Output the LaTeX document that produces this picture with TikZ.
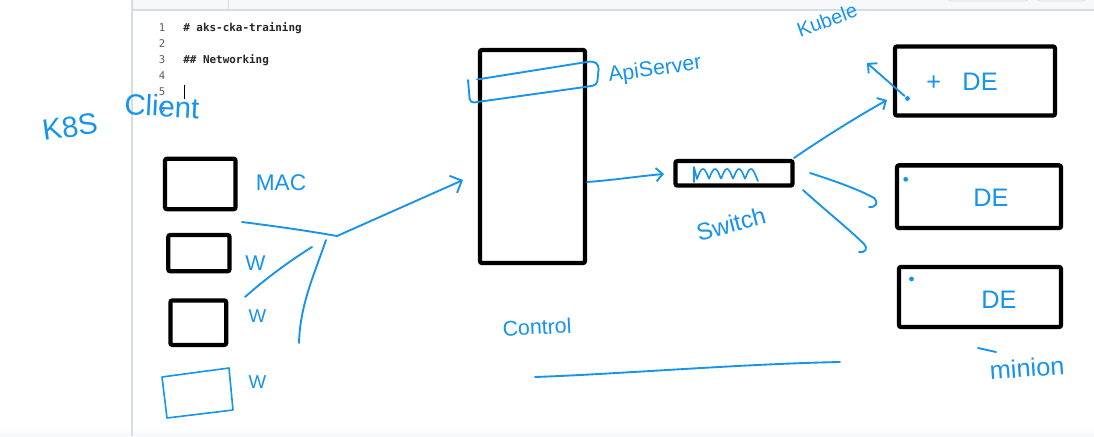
\documentclass[tikz,border=0pt]{standalone}
\usepackage{fontspec}
\usetikzlibrary{arrows.meta}
\newfontfamily\handfont{Liberation Sans}
\newfontfamily\codefont{DejaVu Sans Mono}
\definecolor{inkblue}{RGB}{22,147,235}
\definecolor{uiline}{RGB}{214,220,226}
\definecolor{uigray}{RGB}{246,248,250}
\definecolor{lnum}{RGB}{87,96,106}

\begin{document}
\begin{tikzpicture}[x=0.75pt,y=-0.75pt,
	box/.style={draw,line width=3.2pt,rounded corners=1.5pt,inner sep=0pt},
	ink/.style={draw=inkblue,line width=1.4pt,line cap=round,line join=round},
	hw/.style={text=inkblue,inner sep=0pt,font=\handfont\fontsize{#1}{#1}\selectfont},
	dot/.style={circle,fill=inkblue,inner sep=0pt,minimum size=3.6pt},
	barb/.style={-{Straight Barb[length=5pt,width=10pt]}},
	bigbarb/.style={-{Straight Barb[length=7pt,width=14pt]}},
	code/.style={anchor=base west,inner sep=0pt,text=black!85,font=\codefont\bfseries\fontsize{8.2}{8.2}\selectfont},
	lineno/.style={anchor=base,inner sep=0pt,text=lnum,font=\codefont\fontsize{8}{8}\selectfont}]
	\useasboundingbox (0,0) rectangle (1094,436);
	\fill[white] (0,0) rectangle (1094,436);
	\shade[top color=white,bottom color=uigray] (0,426) rectangle (1094,436);
	\fill[uigray] (132,0) rectangle (1094,9.5);
	\draw[uiline,rounded corners=2pt] (948,-5) rectangle (1028,1);
	\draw[uiline,rounded corners=2pt] (1037,-5) rectangle (1086,1);
	\draw[uiline,line width=0.9pt] (132,10) -- (1094,10);
	\draw[uiline,line width=0.9pt] (132,0) -- (132,436);
	\draw[uiline,line width=0.75pt] (228.5,0) -- (228.5,9.5);

	\foreach \n in {1,...,6}
		\node[lineno] (ln\n) at (162,{31+16.2*(\n-1)}) {\n};
	\node[code] (title) at (183,31) {\# aks-cka-training};
	\node[code] (section) at (183,63.4) {\#\# Networking};
	\draw[black,line width=0.75pt] (184.5,85) -- (184.5,99);

	\node[box,minimum width=52.9pt,minimum height=37.8pt] (mac) at (200.3,184) {};
	\node[box,minimum width=45.9pt,minimum height=27.2pt] (win1) at (198.9,253.1) {};
	\node[box,minimum width=41.8pt,minimum height=33.4pt] (win2) at (198.3,322.7) {};
	\draw[ink,line width=1.2pt] (162,377) -- (229,368) -- (233,410) -- (167,418) -- cycle;
	\node[box,minimum width=78.75pt,minimum height=159.75pt] (ctrl) at (532.5,156.5) {};
	\node[box,minimum width=87.75pt,minimum height=18.4pt] (switch) at (734,173.3) {};
	\node[box,minimum width=120pt,minimum height=51.75pt] (minion1) at (975,81) {};
	\node[box,minimum width=123pt,minimum height=47pt] (minion2) at (979,196.7) {};
	\node[box,minimum width=121.5pt,minimum height=45pt] (minion3) at (980,297) {};

	\node[hw=22,rotate=8] (k8s) at (70,127) {K8S};
	\node[hw=22,rotate=-3] (client) at (162,106) {Client};
	\node[hw=17] (maclbl) at (281,183) {MAC};
	\node[hw=16] (w1lbl) at (255.5,263) {W};
	\node[hw=14] (w2lbl) at (257.5,316) {W};
	\node[hw=14] (w3lbl) at (257.5,382) {W};
	\node[hw=16,rotate=8] (api) at (655,70) {ApiServer};
	\node[hw=16,rotate=3] (ctrllbl) at (537,327) {Control};
	\node[hw=18,rotate=15] (swlbl) at (731,224) {Switch};
	\node[hw=15,rotate=20] (kubelet) at (827,20) {Kubele};
	\node[hw=19,rotate=4] (minion) at (1027,368) {minion};
	\node[hw=19] (de1) at (962,82) {+\hspace{16pt}DE};
	\node[hw=19] (de2) at (991,198) {DE};
	\node[hw=19] (de3) at (999,300) {DE};
	\node[dot] (kub1) at (907.5,98.5) {};
	\node[dot] (kub2) at (905.7,179.3) {};
	\node[dot] (kub3) at (911.5,279) {};

	\coordinate (hub) at (337,236);
	\coordinate (macend) at (242,222);
	\coordinate (w1top) at (312,247);
	\coordinate (w1end) at (245,297);
	\coordinate (w2top) at (326,240);
	\coordinate (w2end) at (299,343);
	\coordinate (ctrlin) at (463,180);
	\coordinate (ctrlout) at (587,182);
	\coordinate (swin) at (664,174);
	\coordinate (swout) at (794,158);
	\coordinate (m1in) at (887,100);
	\coordinate (sw2) at (810,173);
	\coordinate (m2in) at (874,198);
	\coordinate (sw3) at (803,190);
	\coordinate (m3in) at (864,244);
	\coordinate (kubtip) at (867,63);

	\draw[ink] (macend) .. controls (290,228) and (320,233) .. (hub);
	\draw[ink,bigbarb] (hub) -- (ctrlin);
	\draw[ink] (w1top) .. controls (288,262) and (264,280) .. (w1end);
	\draw[ink] (w2top) .. controls (314,275) and (300,305) .. (w2end);
	\draw[ink,barb] (ctrlout) .. controls (615,180) and (640,176) .. (swin);
	\draw[ink,barb] (swout) .. controls (820,140) and (855,118) .. (m1in);
	\draw[ink] (sw2) .. controls (835,181) and (860,190) .. (m2in) .. controls (879,202) and (876,208) .. (869,207);
	\draw[ink] (sw3) .. controls (825,210) and (850,230) .. (m3in) .. controls (868,248) and (866,253) .. (859,252);
	\draw[ink,barb,shorten <=1pt] (kub1) -- (kubtip);

	\draw[ink,line width=1.2pt] (694,182) -- (694,167) -- (697,179) -- plot[domain=0:60,samples=90] ({697+\x},{179-10*abs(sin(\x*15))}) -- (758,181);
	\draw[ink,rounded corners=3pt] (477,79.5) -- (593,61) -- (599,65) -- (597,85) -- (585,87) -- (470,103) -- (468,80);
	\draw[ink] (535,377) .. controls (620,374) and (740,364) .. (840,362);
	\draw[ink] (978,348) -- (996,352);
\end{tikzpicture}
\end{document}
